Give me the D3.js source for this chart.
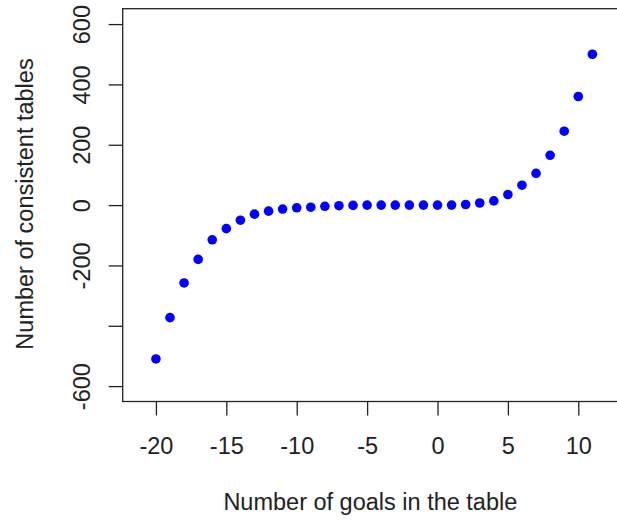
<!DOCTYPE html>
<html>
<head>
<meta charset="utf-8">
<script src="https://cdn.jsdelivr.net/npm/d3@7"></script>
<style>
  body { margin: 0; background: #fff; }
  text { font-family: "Liberation Sans", Arial, sans-serif; fill: #222; }
</style>
</head>
<body>
<svg width="617" height="520"></svg>
<script>
// goals in table vs number of consistent tables
const goals = [-20, -19, -18, -17, -16, -15, -14, -13, -12, -11, -10, -9, -8, -7, -6, -5,
               -4, -3, -2, -1, 0, 1, 2, 3, 4, 5, 6, 7, 8, 9, 10, 11];
const tables = [-510, -373, -258, -180, -115, -78, -50, -30, -20, -13, -9, -7, -4, -2, -1, 0,
                0, 0, 0, 0, 0, 0, 2, 7, 14, 35, 66, 105, 165, 245, 360, 500];

const xTicks = [-20, -15, -10, -5, 0, 5, 10];
const yTicks = [-600, -400, -200, 0, 200, 400, 600];
const yTickLabels = ["-600", "", "-200", "0", "200", "400", "600"]; // -400 dropped like R does

const svg = d3.select("svg");
const plot = {left: 122.7, right: 625.6, top: 8.7, bottom: 401.5};

const x = d3.scaleLinear().domain([-22.36, 13.36]).range([plot.left, plot.right]);
const y = d3.scaleLinear().domain([-651, 651]).range([plot.bottom, plot.top]);

const ink = "#222";

// x axis
const xAxis = svg.append("g")
  .attr("transform", `translate(0,${plot.bottom})`)
  .call(d3.axisBottom(x).tickValues(xTicks).tickSize(14).tickPadding(0).tickFormat(d3.format("d")));
xAxis.select(".domain").remove();
xAxis.selectAll("line").attr("stroke", ink).attr("stroke-width", 1.3);
xAxis.selectAll("text")
  .attr("y", 52.5).attr("dy", null)
  .style("font-size", "23.5px")
  .text(d => d < 0 ? "-" + Math.abs(d) : d);

// y axis, labels rotated like R's las = 0
const yAxis = svg.append("g")
  .attr("transform", `translate(${plot.left},0)`)
  .call(d3.axisLeft(y).tickValues(yTicks).tickSize(14));
yAxis.select(".domain").remove();
yAxis.selectAll("line").attr("stroke", ink).attr("stroke-width", 1.3);
yAxis.selectAll("text")
  .attr("x", null).attr("dy", null)
  .attr("text-anchor", "middle")
  .attr("transform", d => `translate(${90 - plot.left},0) rotate(-90)`)
  .style("font-size", "23.5px")
  .text((d, i) => yTickLabels[i]);

// box (right edge falls outside the picture)
svg.append("rect")
  .attr("x", plot.left).attr("y", plot.top)
  .attr("width", plot.right - plot.left).attr("height", plot.bottom - plot.top)
  .attr("fill", "none").attr("stroke", ink).attr("stroke-width", 1.3);

// points
svg.append("g")
  .selectAll("circle")
  .data(goals.map((g, i) => ({g, t: tables[i]})))
  .join("circle")
    .attr("cx", d => x(d.g))
    .attr("cy", d => y(d.t))
    .attr("r", 4.8)
    .attr("fill", "#0000ff");

// axis titles
svg.append("text")
  .attr("x", (plot.left + 617) / 2 + 0.5).attr("y", 510)
  .attr("text-anchor", "middle")
  .style("font-size", "23.5px")
  .text("Number of goals in the table");

svg.append("text")
  .attr("transform", "translate(33,204) rotate(-90)")
  .attr("text-anchor", "middle")
  .style("font-size", "23.5px")
  .text("Number of consistent tables");
</script>
</body>
</html>
